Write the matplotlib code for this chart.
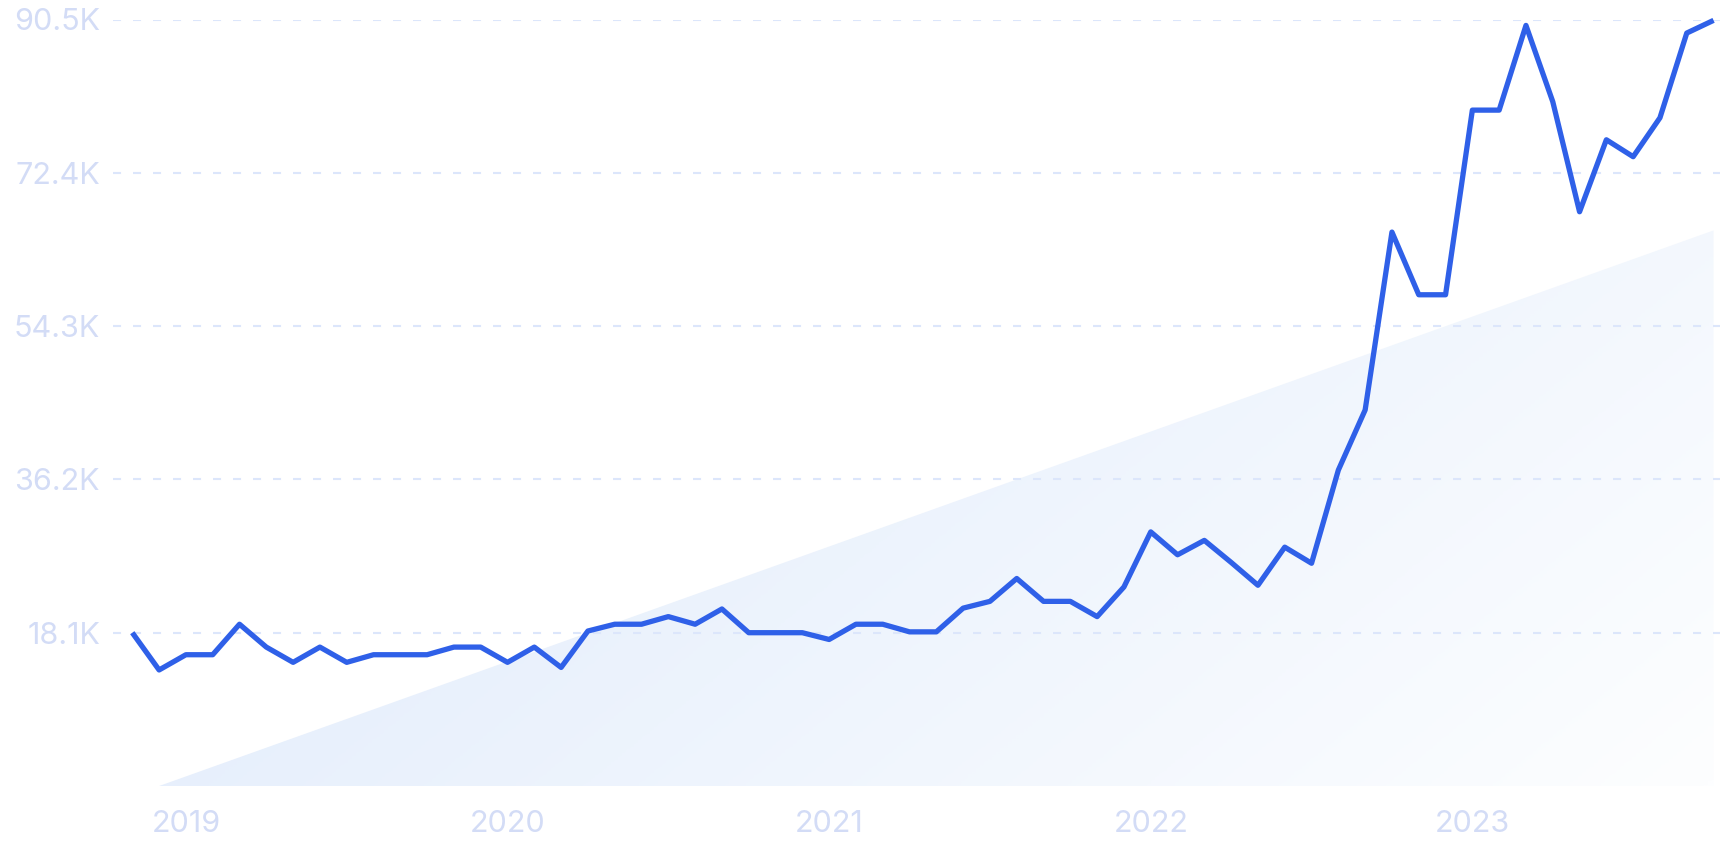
import numpy as np
import matplotlib.pyplot as plt
from matplotlib.colors import LinearSegmentedColormap
from matplotlib.patches import Polygon

plt.rcParams['font.family'] = ['Inter', 'DejaVu Sans']
plt.rcParams['lines.scale_dashes'] = False

# =============================================================================
# DATA (search volume in thousands, monthly Nov 2018 .. Oct 2023)
# =============================================================================

volume = [18.1, 13.7, 15.5, 15.5, 19.1, 16.4, 14.6, 16.4, 14.6, 15.5,
          15.5, 15.5, 16.4, 16.4, 14.6, 16.4, 14.0, 18.3, 19.1, 19.1,
          20.0, 19.1, 20.9, 18.1, 18.1, 18.1, 17.3, 19.1, 19.1, 18.2,
          18.2, 21.0, 21.8, 24.5, 21.8, 21.8, 20.0, 23.5, 30.0, 27.3,
          29.0, 26.4, 23.7, 28.2, 26.3, 37.3, 44.4, 65.4, 58.0, 58.0,
          79.8, 79.8, 89.8, 80.8, 67.8, 76.3, 74.3, 78.9, 88.9, 90.4]

# trend area outline (month index, value)
trend_x = [0, 1, 59]
trend_y = [0, 0, 65.6]

y_ticks = [18.1, 36.2, 54.3, 72.4, 90.5]
y_labels = ['18.1K', '36.2K', '54.3K', '72.4K', '90.5K']

year_pos = [2, 14, 26, 38, 50]
year_labels = ['2019', '2020', '2021', '2022', '2023']

LINE_COLOR = '#2f60e8'
TEXT_COLOR = '#d3dcf6'
GRID_COLOR = '#dce6fb'

# =============================================================================
# FIGURE
# =============================================================================

fig = plt.figure(figsize=(17.2, 8.6), dpi=100)
ax = fig.add_axes([113 / 1720, 74 / 860, 1607 / 1720, 766.5 / 860])

x = np.arange(len(volume))

# gradient trend area
poly_xy = list(zip(trend_x, trend_y)) + [(trend_x[-1], 0)]
patch = Polygon(poly_xy, closed=True, facecolor='none', edgecolor='none')
ax.add_patch(patch)

gx, gy = np.meshgrid(np.linspace(0, 1, 400), np.linspace(0, 1, 300))
shade = 0.7 * gx + 0.3 * (1 - gy)
cmap = LinearSegmentedColormap.from_list('fade', ['#dde9fb', '#fdfeff'])
im = ax.imshow(shade, cmap=cmap, extent=[trend_x[0], trend_x[-1], 0, max(trend_y)],
               origin='lower', aspect='auto', interpolation='bilinear', zorder=1)
im.set_clip_path(patch)

# main line
ax.plot(x, volume, color=LINE_COLOR, lw=3.8, zorder=3,
        solid_joinstyle='round', solid_capstyle='butt', clip_on=False)

# axes styling
ax.set_xlim(-0.72, 59.24)
ax.set_ylim(0, 90.5)

ax.set_yticks(y_ticks, y_labels)
ax.set_xticks(year_pos, year_labels)

ax.set_axisbelow(False)
ax.yaxis.grid(True, color=GRID_COLOR, lw=1.5, linestyle=(0, (5.8, 8.6)), zorder=2)
ax.xaxis.grid(False)

ax.tick_params(axis='both', length=0, labelsize=22, labelcolor=TEXT_COLOR)
ax.tick_params(axis='y', pad=9.4)
ax.tick_params(axis='x', pad=17)

for spine in ax.spines.values():
    spine.set_visible(False)

fig.savefig('out.png', dpi=100)
